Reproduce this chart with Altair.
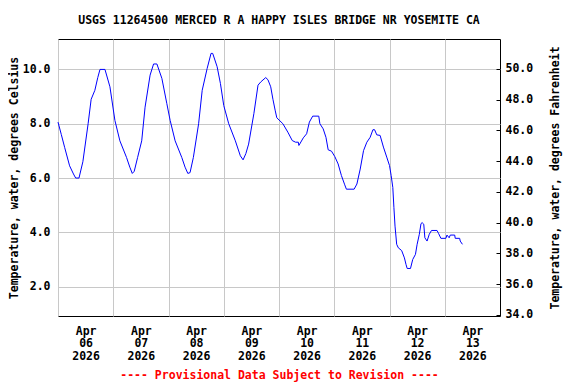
import altair as alt
import pandas as pd

# Days since 2026-04-06 00:00 and water temperature (deg C)
day_offset = [
    0.00, 0.06, 0.12, 0.21, 0.28, 0.32, 0.38, 0.45, 0.545, 0.60, 0.667, 0.72, 0.76, 0.85,
    0.94, 1.03, 1.12, 1.24, 1.30, 1.345, 1.38, 1.44, 1.515, 1.576, 1.667, 1.73, 1.79,
    1.88, 1.97, 2.03, 2.12, 2.24, 2.30, 2.35, 2.39, 2.45, 2.545, 2.61, 2.70, 2.77, 2.80,
    2.88, 2.94, 3.00, 3.09, 3.21, 3.30, 3.35, 3.40, 3.45, 3.545, 3.62, 3.67, 3.76, 3.80,
    3.85, 3.89, 3.93, 3.96, 4.07, 4.16, 4.24, 4.30, 4.35, 4.36, 4.44, 4.50, 4.55, 4.61,
    4.72, 4.74, 4.80, 4.85, 4.89, 4.95, 5.01, 5.07, 5.13, 5.19, 5.22, 5.36, 5.41, 5.47,
    5.53, 5.59, 5.65, 5.70, 5.73, 5.77, 5.83, 5.89, 5.95, 6.00, 6.03, 6.06, 6.08, 6.10,
    6.13, 6.16, 6.22, 6.27, 6.30, 6.32, 6.38, 6.42, 6.47, 6.50, 6.54, 6.57, 6.59, 6.62,
    6.64, 6.68, 6.72, 6.76, 6.86, 6.89, 6.93, 7.02, 7.04, 7.08, 7.10, 7.18, 7.19, 7.27,
    7.28, 7.32,
]
temp_c = [
    8.06, 7.60, 7.13, 6.45, 6.15, 6.00, 6.00, 6.60, 8.00, 8.90, 9.23, 9.70, 10.00, 10.00,
    9.36, 8.12, 7.37, 6.76, 6.40, 6.17, 6.25, 6.75, 7.37, 8.61, 9.79, 10.20, 10.20,
    9.67, 8.74, 8.12, 7.37, 6.76, 6.40, 6.17, 6.20, 6.76, 8.00, 9.23, 10.04, 10.59, 10.59,
    10.10, 9.48, 8.67, 8.00, 7.37, 6.82, 6.67, 6.90, 7.25, 8.37, 9.42, 9.54, 9.70, 9.62,
    9.36, 8.90, 8.50, 8.22, 8.00, 7.69, 7.38, 7.32, 7.32, 7.20, 7.48, 7.63, 8.06, 8.28,
    8.28, 8.00, 7.81, 7.50, 7.04, 6.99, 6.79, 6.52, 6.09, 5.75, 5.59, 5.59, 5.78, 6.33,
    7.01, 7.32, 7.50, 7.78, 7.78, 7.59, 7.57, 7.14, 6.77, 6.46, 6.09, 5.65, 4.91, 4.23,
    3.56, 3.43, 3.33, 3.06, 2.81, 2.67, 2.67, 3.00, 3.19, 3.56, 3.93, 4.32, 4.36, 4.30,
    3.80, 3.68, 3.93, 4.07, 4.07, 3.95, 3.78, 3.78, 3.90, 3.80, 3.90, 3.90, 3.78, 3.78,
    3.68, 3.56,
]

celsius_ticks = [2, 4, 6, 8, 10]
fahrenheit_ticks = [34, 36, 38, 40, 42, 44, 46, 48, 50]
label_days = [6, 7, 8, 9, 10, 11, 12, 13]

title_text = "USGS 11264500 MERCED R A HAPPY ISLES BRIDGE NR YOSEMITE CA"
footer_text = "---- Provisional Data Subject to Revision ----"
left_title = "Temperature, water, degrees Celsius"
right_title = "Temperature, water, degrees Fahrenheit"

start = pd.Timestamp("2026-04-06 00:00")
df = pd.DataFrame({
    "time": [(start + pd.Timedelta(days=d)).strftime("%Y-%m-%dT%H:%M:%S") for d in day_offset],
    "temp_c": temp_c,
})

FONT = "DejaVu Sans Mono"
FS = 11.5
GRID = "#c8c8c8"

x_scale = alt.Scale(domain=[alt.DateTime(year=2026, month=4, date=6),
                            alt.DateTime(year=2026, month=4, date=14)])

x_enc = alt.X(
    "time:T",
    scale=x_scale,
    axis=alt.Axis(
        values=[alt.DateTime(year=2026, month=4, date=d) for d in label_days],
        labelExpr="[timeFormat(datum.value, '%b'), timeFormat(datum.value, '%d'), timeFormat(datum.value, '%Y')]",
        labelOffset=27.6,
        labelAngle=0,
        labelPadding=9,
        labelLineHeight=12.5,
        labelOverlap=False,
        labelFlush=False,
        labelBound=False,
        ticks=False,
        tickSize=0,
        domain=False,
        grid=True,
        gridColor=GRID,
        title=footer_text,
        titleColor="#ff0000",
        titlePadding=8,
    ),
)

line_c = alt.Chart(df).mark_line(color="#0000ff", strokeWidth=1).encode(
    x=x_enc,
    y=alt.Y(
        "temp_c:Q",
        scale=alt.Scale(domain=[0.92, 11.12], nice=False, zero=False),
        axis=alt.Axis(
            values=celsius_ticks,
            format=".1f",
            ticks=False,
            tickSize=0,
            domain=False,
            grid=True,
            gridColor=GRID,
            labelPadding=8,
            title=left_title,
            titlePadding=3,
        ),
    ),
)

line_f = alt.Chart(df).transform_calculate(
    temp_f="datum.temp_c * 1.8 + 32"
).mark_line(opacity=0).encode(
    x=x_enc,
    y=alt.Y(
        "temp_f:Q",
        scale=alt.Scale(domain=[33.93, 51.95], nice=False, zero=False),
        axis=alt.Axis(
            orient="right",
            values=fahrenheit_ticks,
            format=".1f",
            offset=-4,
            tickSize=4,
            tickColor="black",
            domain=False,
            grid=False,
            labelPadding=5,
            title=right_title,
            titleAngle=270,
            titleBaseline="bottom",
            titlePadding=28,
        ),
    ),
)

chart = alt.layer(line_c, line_f).resolve_scale(y="independent").properties(
    width=442,
    height=277,
    background="white",
    autosize=alt.AutoSizeParams(type="none"),
    padding={"left": 50, "top": 31, "right": 68, "bottom": 66},
    title=alt.TitleParams(
        text=title_text, font=FONT, fontSize=FS, fontWeight="bold",
        color="black", anchor="middle", offset=13,
    ),
).configure_view(
    stroke="black", strokeWidth=1
).configure_axis(
    labelFont=FONT, labelFontSize=FS, labelFontWeight="bold", labelColor="black",
    titleFont=FONT, titleFontSize=FS, titleFontWeight="bold", titleColor="black",
)

chart.save("out.html", embed_options={"renderer": "svg", "actions": False})
